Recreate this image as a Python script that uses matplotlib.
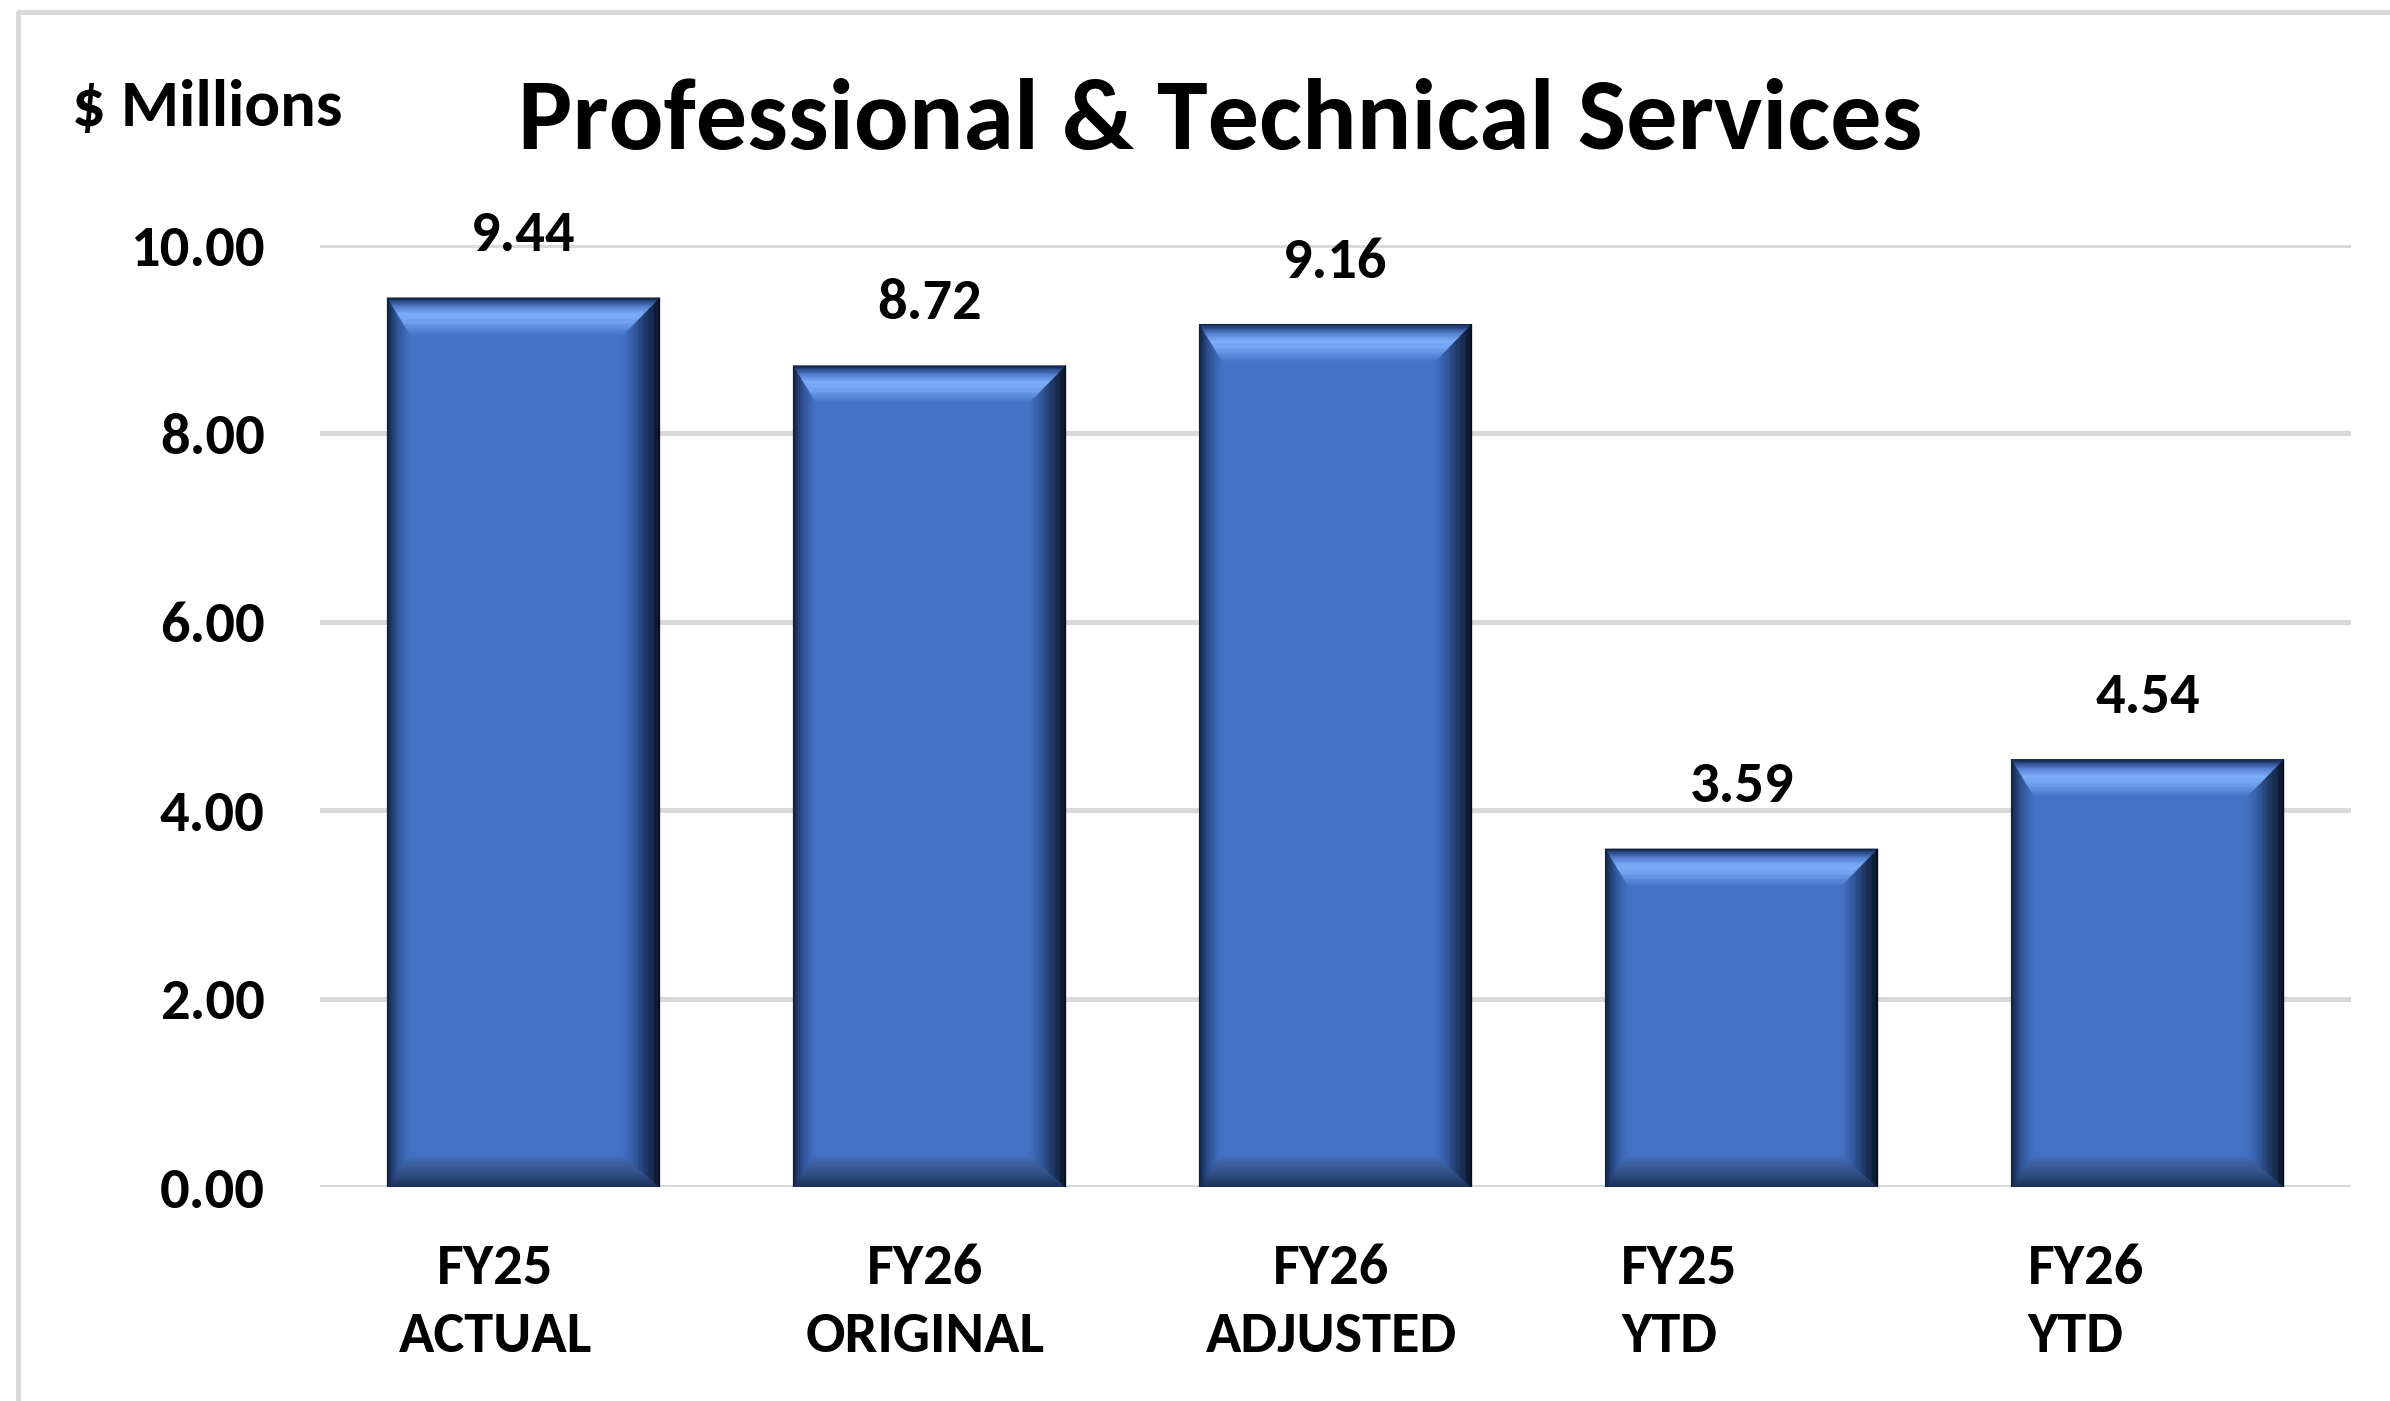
import matplotlib
matplotlib.use("Agg")
import matplotlib.pyplot as plt
import numpy as np
from matplotlib import font_manager
from matplotlib.colors import LinearSegmentedColormap
from matplotlib.patches import Polygon
from matplotlib.lines import Line2D

categories = ["FY25\nACTUAL", "FY26\nORIGINAL", "FY26\nADJUSTED", "FY25\nYTD", "FY26\nYTD"]
values = [9.44, 8.72, 9.16, 3.59, 4.54]
yticks = [0, 2, 4, 6, 8, 10]

# pick a Calibri-like bold font
bold = {f.name for f in font_manager.fontManager.ttflist if f.weight in (700, "bold")}
FONT = next((f for f in ["Carlito", "Source Sans 3", "PT Sans", "Lato"] if f in bold), "DejaVu Sans")
plt.rcParams["font.family"] = [FONT, "DejaVu Sans"]
plt.rcParams["font.weight"] = "bold"

W, H = 2390, 1401
fig = plt.figure(figsize=(W / 100, H / 100), dpi=100)
left, right, bottom, top = 0.1341, 0.9835, 0.1527, 0.8251
ax = fig.add_axes([left, bottom, right - left, top - bottom])

x = np.arange(len(values))
bar_w = 0.672
ax.set_xlim(-0.5, len(values) - 0.5)
ax.set_ylim(0, 10)

# size of one pixel in data units
px_x = (len(values)) / ((right - left) * W)
px_y = 10 / ((top - bottom) * H)

blue = "#4472C4"
ax.bar(x, values, width=bar_w, color=blue, zorder=2, linewidth=0)

cm_top = LinearSegmentedColormap.from_list("t", [(0, "#0b1830"), (0.1, "#2a4a85"), (0.25, "#5782d2"),
                                               (0.45, "#80b0fb"), (0.65, "#74a3f0"), (0.85, "#5887d8"), (1, blue)])
cm_left = LinearSegmentedColormap.from_list("l", [(0, "#0c1a33"), (0.2, "#1f3766"), (0.45, "#2f5294"),
                                                (0.75, "#3c66b2"), (1, blue)])
cm_right = LinearSegmentedColormap.from_list("r", [(0, "#04080f"), (0.15, "#111f3a"), (0.4, "#1f3764"),
                                                 (0.7, "#345a9e"), (1, blue)])
cm_bot = LinearSegmentedColormap.from_list("b", [(0, "#1a2d54"), (0.25, "#263f6c"), (0.5, "#34548a"),
                                               (0.8, "#3f62a4"), (1, blue)])


def bevel(xc, h):
    x0, x1, y0, y1 = xc - bar_w / 2, xc + bar_w / 2, 0, h
    bl, br, bt, bb = 23 * px_x, 37 * px_x, 38 * px_y, 32 * px_y
    L = lambda t: x0 + t * bl
    R = lambda t: x1 - t * br
    T = lambda t: y1 - t * bt
    B = lambda t: y0 + t * bb
    n = 30
    for k in range(n):
        a, b = k / n, (k + 1) / n
        m = (a + b) / 2
        strips = [
            ([(L(a), T(a)), (R(a), T(a)), (R(b), T(b)), (L(b), T(b))], cm_top(m)),
            ([(L(a), B(a)), (R(a), B(a)), (R(b), B(b)), (L(b), B(b))], cm_bot(m)),
            ([(L(a), B(a)), (L(a), T(a)), (L(b), T(b)), (L(b), B(b))], cm_left(m)),
            ([(R(a), B(a)), (R(a), T(a)), (R(b), T(b)), (R(b), B(b))], cm_right(m)),
        ]
        for pts, c in strips:
            ax.add_patch(Polygon(pts, closed=True, facecolor=c, edgecolor=c, linewidth=0.3, zorder=3))


for xi, v in zip(x, values):
    bevel(xi, v)
    ax.annotate(f"{v:.2f}", (xi, v), xytext=(0, 45), textcoords="offset points",
                ha="center", va="center", fontsize=42, fontweight="bold", color="black",
                annotation_clip=False)

# gridlines
for yt in yticks:
    ax.axhline(yt, color="#d9d9d9", linewidth=3.6, zorder=0)
ax.set_yticks(yticks)
ax.set_yticklabels([f"{t:.2f}" for t in yticks], fontsize=42, fontweight="bold")
ax.tick_params(axis="y", length=0, pad=40)
ax.set_xticks([])
for s in ax.spines.values():
    s.set_visible(False)

# category labels
label_ha = ["center", "center", "center", "left", "left"]
label_dx = [-0.07, -0.01, -0.01, -0.297, -0.295]
for xi, lab, ha, dx in zip(x, categories, label_ha, label_dx):
    ax.text(xi + dx, -0.122, lab, transform=ax.get_xaxis_transform(), ha=ha, va="center",
            multialignment=ha, fontsize=42, fontweight="bold", linespacing=1.45, clip_on=False)

fig.text(0.5105, 0.913, "Professional & Technical Services", ha="center", va="center",
         fontsize=73.5, fontweight="bold")
fig.text(0.0300, 0.923, "$ Millions", ha="left", va="center", fontsize=48, fontweight="bold")

# outer frame (left and top edges visible)
fig.add_artist(Line2D([18 / W, 18 / W, 1.0], [0, 1 - 12 / H, 1 - 12 / H], color="#d9d9d9",
                      linewidth=3.6, transform=fig.transFigure))

fig.savefig("out.png", dpi=100)
